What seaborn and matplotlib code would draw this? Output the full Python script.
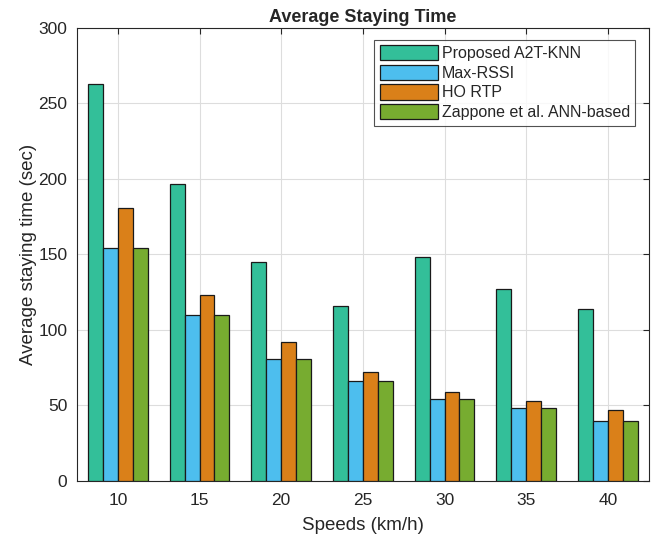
import pandas as pd
import matplotlib.pyplot as plt
import seaborn as sns

# Datos
speeds = [10, 15, 20, 25, 30, 35, 40]
methods = ["Proposed A2T-KNN", "Max-RSSI", "HO RTP", "Zappone et al. ANN-based"]
a2t_knn = [263, 197, 145, 116, 148, 127, 114]
max_rssi = [154, 110, 81, 66, 54, 48, 40]
ho_rtp = [181, 123, 92, 72, 59, 53, 47]
zappone = [154, 110, 81, 66, 54, 48, 40]
colors = ["#33BF99", "#4DBEEE", "#DA8019", "#77AC30"]

rows = []
for name, vals in zip(methods, [a2t_knn, max_rssi, ho_rtp, zappone]):
    for s, v in zip(speeds, vals):
        rows.append({"speed": s, "method": name, "time": v})
df = pd.DataFrame(rows)

sns.set_style("white")
plt.rcParams["font.family"] = ["Liberation Sans", "DejaVu Sans"]

fig = plt.figure(figsize=(6.58, 5.38), dpi=100)
ax = fig.add_axes([0.117, 0.106, 0.869, 0.842])

sns.barplot(data=df, x="speed", y="time", hue="method", hue_order=methods,
            palette=colors, width=0.73, gap=0, edgecolor="#1a1a1a", linewidth=0.9,
            saturation=1, ax=ax, zorder=3)

ax.set_xlim(-0.5, 6.5)
ax.set_ylim(0, 300)
ax.set_yticks(range(0, 301, 50))
ax.grid(True, color="#dddddd", linewidth=0.8, zorder=0)
ax.set_axisbelow(True)
for sp in ax.spines.values():
    sp.set_visible(True)
    sp.set_color("#262626")
    sp.set_linewidth(0.8)
ax.tick_params(direction="in", length=4, top=True, right=True, labelsize=12.5,
               colors="#262626", width=0.8)
ax.tick_params(axis="x", pad=9)
ax.tick_params(axis="y", pad=7)

ax.set_title("Average Staying Time", fontsize=13, fontweight="bold", pad=4)
ax.set_xlabel("Speeds (km/h)", fontsize=13.5, color="#262626", labelpad=6)
ax.set_ylabel("Average staying time (sec)", fontsize=13.5, color="#262626", labelpad=1)

leg = ax.legend(loc="upper right", fontsize=11.5, frameon=True, fancybox=False,
                edgecolor="#262626", handlelength=3.6, handleheight=1.1,
                handletextpad=0.25, borderpad=0.35, labelspacing=0.22,
                borderaxespad=0.3, bbox_to_anchor=(0.985, 0.985))
leg.get_frame().set_linewidth(0.8)

plt.savefig("out.png", dpi=100)
